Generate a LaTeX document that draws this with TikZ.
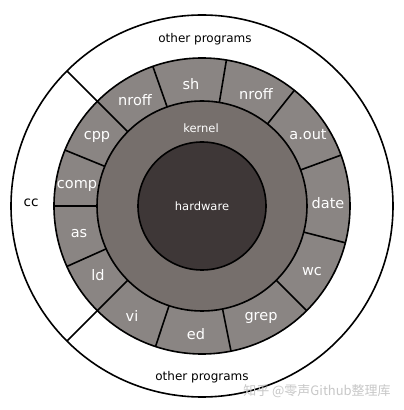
\documentclass[tikz,border=0pt]{standalone}
\usepackage{fontspec}
\usetikzlibrary{calc}
\setmainfont{DejaVu Sans}
\newfontfamily\cjkfont{Noto Sans CJK SC}
\begin{document}
\begin{tikzpicture}[x=1pt,y=1pt,
  ringline/.style={draw=black,line width=1.6pt},
  seglabel/.style={text=white,font=\fontsize{14.5}{16}\selectfont,inner sep=0pt},
  corelabel/.style={text=white,font=\fontsize{11.5}{13}\selectfont,inner sep=0pt},
  outlabel/.style={text=black,font=\fontsize{12}{14}\selectfont,inner sep=0pt}]
\definecolor{progfill}{RGB}{138,133,131}
\definecolor{kernfill}{RGB}{118,111,108}
\definecolor{hwfill}{RGB}{62,55,55}
\definecolor{wmark}{RGB}{200,200,200}
\useasboundingbox (0,0) rectangle (404,410);
\fill[white] (0,0) rectangle (404,410);
\coordinate (c) at (202,204);
% outer circle
\draw[ringline] (c) circle[radius=191];
% cc separators
\draw[ringline] ($(c)+(135:148)$) -- ($(c)+(135:191)$);
\draw[ringline] ($(c)+(225:148)$) -- ($(c)+(225:191)$);
% program ring
\draw[ringline,fill=progfill] (c) circle[radius=148];
\draw[ringline,fill=kernfill] (c) circle[radius=105];
\draw[ringline,fill=hwfill] (c) circle[radius=64];
\foreach \a in {80.5,51.4,20.1,-14.4,-45,-78.7,-108.3,-135,-155.9,180,157.8,135,109.4}
  \draw[ringline] ($(c)+(\a:105)$) -- ($(c)+(\a:148)$);
% labels
\node[outlabel] (optop) at (205,371) {other programs};
\node[outlabel] (opbot) at (202,33) {other programs};
\node[outlabel,font=\fontsize{13.5}{15}\selectfont] (cc) at (31,207) {cc};
\node[seglabel] (sh) at (191,326) {sh};
\node[seglabel] (nroffR) at (256,316) {nroff};
\node[seglabel] (aout) at (308,275) {a.out};
\node[seglabel] (date) at (328,207) {date};
\node[seglabel] (wc) at (312,138) {wc};
\node[seglabel] (grep) at (261,92) {grep};
\node[seglabel] (ed) at (196,76) {ed};
\node[seglabel] (vi) at (132,94) {vi};
\node[seglabel] (ld) at (98,135) {ld};
\node[seglabel] (as) at (79,176) {as};
\node[seglabel] (comp) at (77,224) {comp};
\node[seglabel] (cpp) at (97,273) {cpp};
\node[seglabel] (nroffL) at (135,310) {nroff};
\node[corelabel] (kernel) at (201,282) {kernel};
\node[corelabel] (hardware) at (202,204) {hardware};
\node[text=wmark,font=\cjkfont\fontsize{13}{15}\selectfont,inner sep=0pt] (wm) at (317,19) {知乎 @零声Github整理库};
\end{tikzpicture}
\end{document}
